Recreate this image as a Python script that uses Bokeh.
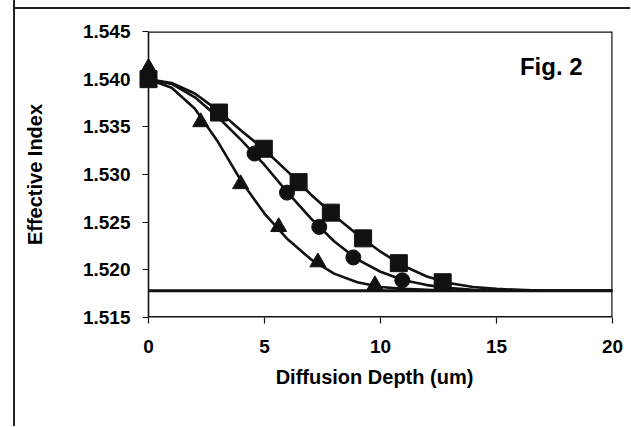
from bokeh.plotting import figure
from bokeh.models import FixedTicker, PrintfTickFormatter
from bokeh.core.properties import value
from bokeh.embed import file_html
from bokeh.resources import INLINE

# ---- data ----
sq_x = [0.0, 3.04, 4.97, 6.47, 7.86, 9.25, 10.79, 12.68]
sq_y = [1.5400, 1.5365, 1.5327, 1.5292, 1.5260, 1.5233, 1.5207, 1.5187]

ci_x = [0.0, 4.57, 5.97, 7.36, 8.83, 10.94]
ci_y = [1.5400, 1.5322, 1.5281, 1.5245, 1.5213, 1.5189]

tr_x = [0.0, 2.25, 3.97, 5.61, 7.30, 9.76]
tr_y = [1.5412, 1.5355, 1.5290, 1.5245, 1.5208, 1.5184]

curve_x = [0, 1, 2, 3, 4, 5, 6, 7, 8, 9, 10, 11, 12, 13, 14, 15, 16, 17, 18, 19, 20]
sq_curve = [1.5400, 1.5396, 1.5385, 1.5367, 1.5346, 1.5326, 1.5303, 1.5279, 1.5257,
            1.5237, 1.5219, 1.5204, 1.5193, 1.5186, 1.5182, 1.5180, 1.5179, 1.5178,
            1.5178, 1.5178, 1.5178]
ci_curve = [1.5400, 1.5395, 1.5381, 1.5360, 1.5336, 1.5310, 1.5281, 1.5254, 1.5230,
            1.5211, 1.5198, 1.5189, 1.5184, 1.5181, 1.5179, 1.5178, 1.5178, 1.5178,
            1.5178, 1.5178, 1.5178]
tr_curve = [1.5400, 1.5391, 1.5369, 1.5334, 1.5293, 1.5259, 1.5232, 1.5211, 1.5196,
            1.5187, 1.5182, 1.5180, 1.5179, 1.5178, 1.5178, 1.5178, 1.5178, 1.5178,
            1.5178, 1.5178, 1.5178]

substrate_index = 1.5178

x_min, x_max = 0, 20
y_min, y_max = 1.515, 1.545
x_ticks = [0, 5, 10, 15, 20]
y_ticks = [1.515, 1.520, 1.525, 1.530, 1.535, 1.540, 1.545]

title_text = "Fig. 2"
x_label = "Diffusion Depth (um)"
y_label = "Effective Index"

FONT = "Liberation Sans"
INK = "#111111"

# a little room left of x=0 so the markers sitting on the y axis are not cut
PX_PER_UNIT = 464 / 20
PAD_PX = 12
x_start = -PAD_PX / PX_PER_UNIT

p = figure(width=630, height=426, output_backend="svg", toolbar_location=None,
           x_range=(x_start, x_max), y_range=(y_min, y_max),
           min_border_left=148 - PAD_PX, min_border_right=18, min_border_top=31,
           min_border_bottom=109)
# outer frame lines of the scanned page (top and left), drawn behind a transparent canvas
p.styles = {
    "background-color": "white",
    "background-image": (
        "linear-gradient(to right, transparent 13px, #222 13px, #222 15px, transparent 15px),"
        "linear-gradient(to bottom, transparent 7px, #222 7px, #222 9px, transparent 9px)"
    ),
    "background-position": "0px 0px, 13px 0px",
    "background-size": "100% 100%, 100% 100%",
    "background-repeat": "no-repeat, no-repeat",
}

p.grid.visible = False
p.background_fill_color = "white"
p.border_fill_color = None
p.outline_line_color = None

for ax in (p.xaxis, p.yaxis):
    ax.axis_line_color = None
    ax.major_tick_line_color = INK
    ax.major_tick_line_width = 1.2
    ax.minor_tick_line_color = None
    ax.major_label_text_font = FONT
    ax.major_label_text_font_style = "bold"
    ax.major_label_text_font_size = "19px"
    ax.major_label_text_color = "black"
    ax.axis_label_text_font = FONT
    ax.axis_label_text_font_style = "bold"
    ax.axis_label_text_font_size = "20px"
    ax.axis_label_text_color = "black"

p.xaxis.major_tick_out = 6
p.xaxis.major_tick_in = 0
# y ticks: drawn between x=-6px and x=0 of the data axis (which sits PAD_PX inside the frame)
p.yaxis.major_tick_out = -(PAD_PX - 6)
p.yaxis.major_tick_in = PAD_PX

p.xaxis.ticker = FixedTicker(ticks=x_ticks)
p.yaxis.ticker = FixedTicker(ticks=y_ticks)
p.yaxis.formatter = PrintfTickFormatter(format="%.3f")
p.xaxis.axis_label = x_label
p.yaxis.axis_label = y_label
p.xaxis.major_label_standoff = 16
p.yaxis.major_label_standoff = 6
p.xaxis.axis_label_standoff = 10
p.yaxis.axis_label_standoff = 34

# plot-area border: left axis, bottom axis, top and right edges
p.line([x_min, x_min], [y_min, y_max], line_color=INK, line_width=1.6)
p.line([x_min, x_max], [y_min, y_min], line_color=INK, line_width=3.2)
p.line([x_min, x_max], [y_max, y_max], line_color=INK, line_width=2.4)
p.line([x_max, x_max], [y_min, y_max], line_color=INK, line_width=2.4)

# substrate line
p.line([x_min, x_max], [substrate_index, substrate_index], line_color=INK, line_width=3)

# fitted curves
for yc in (sq_curve, ci_curve, tr_curve):
    p.line(curve_x, yc, line_color=INK, line_width=2.6, line_join="round")

# markers
p.scatter(tr_x, tr_y, marker="triangle", size=16, fill_color=INK, line_color=INK)
p.scatter(ci_x, ci_y, marker="circle", size=15, fill_color=INK, line_color=INK)
p.scatter(sq_x, sq_y, marker="square", size=17, fill_color=INK, line_color=INK)

p.text(x=[17.36], y=[1.5413], text=[title_text], text_font=value(FONT),
       text_font_style="bold", text_font_size="24px", text_align="center",
       text_baseline="middle", text_color="black")

open("out.html", "w").write(file_html(p, INLINE))
